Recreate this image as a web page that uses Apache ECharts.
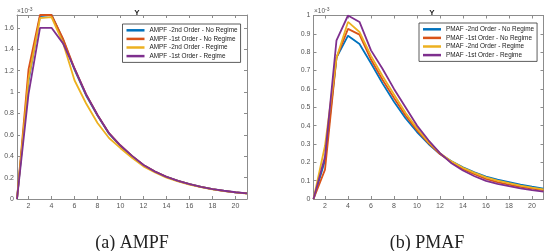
<!DOCTYPE html>
<html><head><meta charset="utf-8">
<script src="https://cdn.jsdelivr.net/npm/echarts@6/dist/echarts.min.js"></script>
<style>html,body{margin:0;padding:0;background:#fff}#c{width:549px;height:251px}</style>
</head><body><div id="c"></div>
<script>
// x: horizon 1..21 ; values in units of 1e-3
const xs = [1,2,3,4,5,6,7,8,9,10,11,12,13,14,15,16,17,18,19,20,21];
const xTicks = [2,4,6,8,10,12,14,16,18,20];
const yTicksL = [0,0.2,0.4,0.6,0.8,1,1.2,1.4,1.6];
const yTicksR = [0,0.1,0.2,0.3,0.4,0.5,0.6,0.7,0.8,0.9,1];

const namesL = ['AMPF -2nd Order - No Regime','AMPF -1st Order - No Regime','AMPF -2nd Order - Regime','AMPF -1st Order - Regime'];
const namesR = ['PMAF -2nd Order - No Regime','PMAF -1st Order - No Regime','PMAF -2nd Order - Regime','PMAF -1st Order - Regime'];

// peaks of the AMPF curves run to the top of the axis (read as the clipped edge value)
const ampf2NoReg = [0,1.10,1.71,1.72,1.49,1.21,0.97,0.78,0.61,0.495,0.40,0.315,0.255,0.206,0.17,0.138,0.113,0.092,0.076,0.062,0.052];
const ampf1NoReg = [0,1.21,1.72,1.72,1.50,1.22,0.98,0.785,0.615,0.50,0.403,0.318,0.256,0.207,0.17,0.138,0.113,0.092,0.076,0.062,0.052];
const ampf2Reg   = [0,1.12,1.69,1.70,1.46,1.11,0.895,0.71,0.57,0.475,0.385,0.305,0.248,0.20,0.165,0.135,0.11,0.09,0.074,0.061,0.051];
const ampf1Reg   = [0,0.98,1.60,1.60,1.455,1.22,0.98,0.785,0.615,0.50,0.403,0.318,0.256,0.207,0.17,0.139,0.114,0.093,0.077,0.063,0.053];

const pmaf2NoReg = [0,0.21,0.77,0.89,0.845,0.74,0.63,0.53,0.44,0.365,0.30,0.245,0.205,0.173,0.145,0.122,0.105,0.092,0.078,0.067,0.057];
const pmaf1NoReg = [0,0.16,0.77,0.927,0.896,0.76,0.65,0.55,0.455,0.375,0.305,0.245,0.20,0.163,0.135,0.11,0.092,0.078,0.066,0.056,0.048];
const pmaf2Reg   = [0,0.29,0.77,0.965,0.91,0.78,0.67,0.57,0.47,0.385,0.31,0.25,0.205,0.17,0.142,0.118,0.10,0.086,0.073,0.062,0.053];
const pmaf1Reg   = [0,0.23,0.865,1.0,0.965,0.81,0.71,0.60,0.50,0.40,0.32,0.25,0.195,0.155,0.124,0.099,0.083,0.07,0.058,0.048,0.04];

const colors = ['#0072BD','#D95319','#EDB120','#7E2F8E'];
const axisCol = '#8c8c8c', labCol = '#555';
const FONT = 'Liberation Sans, Arial, sans-serif';

function pair(arr){ return xs.map((x,i)=>[x,arr[i]]); }

function xAx(g, pos){
  return {gridIndex:g, type:'value', min:1, max:21, position:pos,
    axisLine:{show:true, onZero:false, lineStyle:{color:axisCol,width:1}},
    axisTick:{show:true, inside:true, length:3, customValues:xTicks, lineStyle:{color:axisCol}},
    axisLabel:{show:pos==='bottom', customValues:xTicks, fontSize:7, color:labCol, margin:4, fontFamily:FONT},
    splitLine:{show:false}};
}
function yAx(g, pos, max, ticks){
  return {gridIndex:g, type:'value', min:0, max:max, position:pos,
    axisLine:{show:true, onZero:false, lineStyle:{color:axisCol,width:1}},
    axisTick:{show:true, inside:true, length:3, customValues:ticks, lineStyle:{color:axisCol}},
    axisLabel:{show:pos==='left', customValues:ticks, fontSize:7, color:labCol, margin:3, fontFamily:FONT},
    splitLine:{show:false}};
}
function ser(name, arr, i, xi, yi){
  return {name:name, type:'line', xAxisIndex:xi, yAxisIndex:yi, data:pair(arr), symbol:'none',
    lineStyle:{color:colors[i], width:1.8}, itemStyle:{color:colors[i]}, clip:true, animation:false};
}
function leg(names, left, top){
  return {data:names, orient:'vertical', left:left, top:top, itemGap:0, itemWidth:18, itemHeight:2.5,
    icon:'rect', padding:[2,3,2,4], borderColor:'#333', borderWidth:0.8, backgroundColor:'#fff',
    textStyle:{fontSize:6.4, color:'#222', fontFamily:FONT, lineHeight:8.6}, itemStyle:{borderWidth:0}};
}

const chart = echarts.init(document.getElementById('c'), null, {renderer:'canvas'});
chart.setOption({
  animation:false,
  grid:[{left:17, top:15, width:230, height:184},
        {left:313.5, top:15.5, width:230, height:183.5}],
  xAxis:[xAx(0,'bottom'), xAx(0,'top'), xAx(1,'bottom'), xAx(1,'top')],
  yAxis:[yAx(0,'left',1.72,yTicksL), yAx(0,'right',1.72,yTicksL), yAx(1,'left',1.0,yTicksR), yAx(1,'right',1.0,yTicksR)],
  legend:[leg(namesL,122.5,24), leg(namesR,419,23)],
  title:[
    {text:'Y', left:132, top:4, textAlign:'center', textStyle:{fontSize:8, fontWeight:'bold', color:'#222', fontFamily:FONT}},
    {text:'Y', left:427, top:4, textAlign:'center', textStyle:{fontSize:8, fontWeight:'bold', color:'#222', fontFamily:FONT}},
    {text:'(a) AMPF', left:127, top:229, textAlign:'center', textStyle:{fontSize:18, fontWeight:'normal', color:'#222', fontFamily:'Liberation Serif, serif'}},
    {text:'(b) PMAF', left:422, top:229, textAlign:'center', textStyle:{fontSize:18, fontWeight:'normal', color:'#222', fontFamily:'Liberation Serif, serif'}}
  ],
  graphic:[
    {type:'text', left:17, top:7, style:{text:'{a|×10}{b|-3}', rich:{a:{fontSize:6.5, fill:labCol, fontFamily:FONT}, b:{fontSize:5, fill:labCol, fontFamily:FONT, padding:[0,0,4,0]}}}},
    {type:'text', left:314, top:7, style:{text:'{a|×10}{b|-3}', rich:{a:{fontSize:6.5, fill:labCol, fontFamily:FONT}, b:{fontSize:5, fill:labCol, fontFamily:FONT, padding:[0,0,4,0]}}}}
  ],
  series:[
    ser(namesL[0], ampf2NoReg, 0, 0, 0),
    ser(namesL[1], ampf1NoReg, 1, 0, 0),
    ser(namesL[2], ampf2Reg, 2, 0, 0),
    ser(namesL[3], ampf1Reg, 3, 0, 0),
    ser(namesR[0], pmaf2NoReg, 0, 2, 2),
    ser(namesR[1], pmaf1NoReg, 1, 2, 2),
    ser(namesR[2], pmaf2Reg, 2, 2, 2),
    ser(namesR[3], pmaf1Reg, 3, 2, 2)
  ]
});
</script></body></html>
